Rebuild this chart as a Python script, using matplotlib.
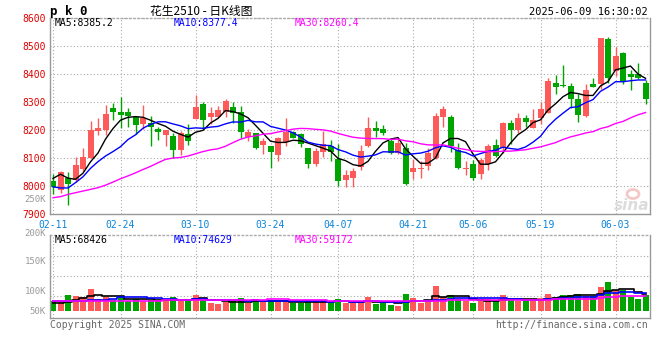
import numpy as np
import pandas as pd
import matplotlib
matplotlib.use("Agg")
import matplotlib.pyplot as plt
from matplotlib.patches import Ellipse

# 交易日（节假日去掉）
holidays = ["2025-04-04", "2025-05-01", "2025-05-02", "2025-05-05", "2025-06-02"]
days = pd.bdate_range("2025-02-11", "2025-06-09", freq="C", holidays=holidays)
date_labels = ["02-11", "02-24", "03-10", "03-24", "04-07", "04-21", "05-06", "05-19", "06-03"]

opens = [8017, 7986, 8030, 8021, 8060, 8099, 8197, 8201, 8277, 8263,
         8263, 8246, 8220, 8226, 8202, 8182, 8179, 8127, 8185, 8240,
         8294, 8246, 8246, 8264, 8281, 8263, 8175, 8190, 8145, 8142,
         8111, 8158, 8194, 8185, 8135, 8080, 8123, 8144, 8095, 8021,
         8030, 8068, 8143, 8208, 8202, 8161, 8119, 8135, 8050, 8060,
         8072, 8099, 8247, 8245, 8129, 8061, 8077, 8042, 8077, 8145,
         8137, 8226, 8199, 8244, 8208, 8242, 8262, 8369, 8360, 8357,
         8310, 8250, 8363, 8363, 8524, 8411, 8476, 8399, 8401, 8369]
highs = [8044, 8052, 8050, 8102, 8136, 8231, 8242, 8289, 8295, 8319,
         8277, 8248, 8288, 8250, 8210, 8201, 8189, 8196, 8220, 8324,
         8300, 8282, 8286, 8310, 8300, 8286, 8205, 8190, 8173, 8142,
         8175, 8242, 8196, 8188, 8135, 8137, 8198, 8165, 8149, 8057,
         8066, 8145, 8247, 8232, 8218, 8170, 8170, 8155, 8095, 8089,
         8137, 8262, 8286, 8252, 8152, 8089, 8092, 8100, 8151, 8169,
         8228, 8235, 8262, 8254, 8274, 8301, 8385, 8396, 8431, 8369,
         8327, 8363, 8385, 8530, 8532, 8496, 8480, 8413, 8440, 8377]
lows = [7970, 7976, 7932, 8015, 8055, 8099, 8181, 8182, 8237, 8206,
        8211, 8185, 8202, 8143, 8163, 8142, 8101, 8111, 8145, 8240,
        8202, 8223, 8246, 8246, 8226, 8170, 8161, 8131, 8113, 8063,
        8089, 8143, 8170, 8139, 8065, 8073, 8105, 8089, 8000, 7998,
        7998, 8056, 8140, 8175, 8182, 8113, 8113, 8003, 8024, 8028,
        8056, 8097, 8211, 8123, 8060, 8040, 8022, 8024, 8056, 8105,
        8117, 8149, 8191, 8211, 8206, 8223, 8260, 8327, 8354, 8280,
        8229, 8248, 8352, 8345, 8369, 8393, 8363, 8342, 8381, 8292]
closes = [7996, 8049, 8008, 8074, 8102, 8199, 8206, 8256, 8263, 8252,
          8250, 8218, 8244, 8211, 8193, 8201, 8129, 8188, 8161, 8281,
          8235, 8260, 8270, 8302, 8262, 8193, 8192, 8135, 8160, 8120,
          8170, 8194, 8173, 8151, 8079, 8124, 8149, 8123, 8018, 8039,
          8052, 8125, 8206, 8197, 8189, 8119, 8154, 8006, 8063, 8064,
          8119, 8249, 8274, 8143, 8063, 8063, 8028, 8092, 8142, 8107,
          8226, 8200, 8242, 8230, 8235, 8274, 8375, 8354, 8357, 8310,
          8254, 8342, 8354, 8527, 8387, 8464, 8375, 8389, 8385, 8310]
# 成交量（千手）
volumes_k = [41, 41, 65, 61, 57, 89, 49, 57, 45, 61,
             41, 49, 41, 45, 41, 41, 57, 41, 49, 65,
             45, 32, 28, 37, 41, 53, 32, 45, 37, 41,
             41, 41, 32, 32, 45, 41, 41, 32, 49, 32,
             32, 41, 57, 28, 32, 24, 20, 69, 53, 32,
             41, 102, 57, 65, 49, 41, 32, 41, 49, 41,
             65, 49, 41, 41, 41, 53, 69, 57, 65, 65,
             69, 61, 61, 97, 118, 85, 85, 57, 49, 65]

# 均线开头部分（需要更早的数据，直接从图上读）
ma5_head = [8027, 8042, 8028, 8024]
ma10_head = [7997, 7993, 7993, 8012, 8033, 8063, 8087, 8107, 8123]
ma30_head = [7958, 7962, 7970, 7976, 7982, 7988, 7994, 8003, 8014, 8026,
             8036, 8047, 8059, 8070, 8083, 8095, 8100, 8102, 8107, 8115,
             8123, 8129, 8133, 8142, 8155, 8167, 8175, 8179, 8185]
vma5_head = [34, 34, 36, 46]
vma10_head = [41, 41, 41, 41, 41, 43, 45, 46, 48]
vma30_head = [42, 42, 42, 42, 42, 42, 42, 42, 42, 42,
              42, 42, 42, 42, 42, 43, 43, 43, 43, 44,
              44, 44, 44, 44, 44, 44, 44, 44, 44]


def moving_avg(values, n, head):
    out = pd.Series(values, dtype=float).rolling(n).mean().to_numpy()
    out[:len(head)] = head
    return out


x = np.arange(len(closes))
o = np.array(opens, float)
h = np.array(highs, float)
l = np.array(lows, float)
c = np.array(closes, float)
vol = np.array(volumes_k, float) * 1000

ma5 = moving_avg(c, 5, ma5_head)
ma10 = moving_avg(c, 10, ma10_head)
ma30 = moving_avg(c, 30, ma30_head)
vma5 = moving_avg(vol, 5, np.array(vma5_head) * 1000)
vma10 = moving_avg(vol, 10, np.array(vma10_head) * 1000)
vma30 = moving_avg(vol, 30, np.array(vma30_head) * 1000)

RED = "#ff5a5a"
GREEN = "#00a400"
up = c >= o
cols = np.where(up, RED, GREEN)

mono = "DejaVu Sans Mono"
W, H = 660, 360

fig = plt.figure(figsize=(6.6, 3.6), dpi=100)
ax = fig.add_axes([50 / W, 1 - 214 / H, 600 / W, 196 / H])
axv = fig.add_axes([50 / W, 1 - 318 / H, 600 / W, 83 / H])

tick_pos = [list(days.strftime("%m-%d")).index(d) for d in date_labels]

for a in (ax, axv):
    a.set_xlim(-0.4, len(x) - 0.4)
    for s in a.spines.values():
        s.set_color("#999999")
        s.set_linewidth(1)
    a.spines["top"].set_linestyle((0, (1, 2)))
    a.spines["top"].set_color("#aaaaaa")
    a.set_xticks(tick_pos)
    a.grid(True, color="#aaaaaa", linestyle=(0, (1, 2)), linewidth=0.8)
    a.set_axisbelow(True)
    a.tick_params(length=0)

# K 线
ax.vlines(x, l, h, colors=cols, linewidth=1)
body_bottom = np.minimum(o, c)
body_h = np.maximum(np.abs(c - o), 3)
ax.bar(x, body_h, bottom=body_bottom, width=0.8, color=cols, linewidth=0)
ax.plot(x, ma5, color="black", lw=1)
ax.plot(x, ma10, color="#0000ff", lw=1)
ax.plot(x, ma30, color="#ff00ff", lw=1)
ax.set_ylim(7900, 8600)
ax.set_yticks(range(7900, 8601, 100))
ax.set_yticklabels([str(v) for v in range(7900, 8601, 100)], color="#e00000",
                   fontsize=7, family=mono)
ax.tick_params(axis="y", pad=3)
ax.set_xticklabels(date_labels, color="#0a84d8", fontsize=7, family=mono)
ax.tick_params(axis="x", pad=4)

# 成交量
axv.bar(x, vol, width=0.8, color=cols, linewidth=0)
axv.plot(x, vma5, color="black", lw=1.2, drawstyle="steps-mid")
axv.plot(x, vma10, color="#0000ff", lw=1.2, drawstyle="steps-mid")
axv.plot(x, vma30, color="#ff00ff", lw=1.2, drawstyle="steps-mid")
axv.set_ylim(-28400, 308600)
axv.set_yticks([61000, 142000, 223000])
axv.set_yticklabels([])
axv.set_xticklabels([])

# 文字
fig.text(50 / W, 1 - 11 / H, "p k 0", fontsize=9, weight="bold", family=mono, va="center")
fig.text(201 / W, 1 - 11 / H, "花生2510 - 日K线图", fontsize=8.5,
         family=["Noto Sans CJK SC", "DejaVu Sans"], ha="center", va="center")
fig.text(648 / W, 1 - 12 / H, "2025-06-09 16:30:02", fontsize=7.5, family=mono,
         ha="right", va="center")
fig.text(55 / W, 1 - 23 / H, "MA5:8385.2", fontsize=7, family=mono, va="center", color="black")
fig.text(174 / W, 1 - 23 / H, "MA10:8377.4", fontsize=7, family=mono, va="center", color="#0000ff")
fig.text(295 / W, 1 - 23 / H, "MA30:8260.4", fontsize=7, family=mono, va="center", color="#ff00ff")
fig.text(55 / W, 1 - 240 / H, "MA5:68426", fontsize=7, family=mono, va="center", color="black")
fig.text(174 / W, 1 - 240 / H, "MA10:74629", fontsize=7, family=mono, va="center", color="#0000ff")
fig.text(295 / W, 1 - 240 / H, "MA30:59172", fontsize=7, family=mono, va="center", color="#ff00ff")

for lab, ypx in [("250K", 200), ("200K", 234), ("150K", 261), ("100K", 291), ("50K", 311)]:
    fig.text(46 / W, 1 - ypx / H, lab, fontsize=6.5, family=mono, color="#999999",
             ha="right", va="center")

fig.text(50 / W, 1 - 325 / H, "Copyright 2025 SINA.COM", fontsize=7, family=mono,
         color="#666666", va="center")
fig.text(648 / W, 1 - 325 / H, "http://finance.sina.com.cn", fontsize=7, family=mono,
         color="#666666", ha="right", va="center")

# sina 水印
fig.patches.append(Ellipse((633 / W, 1 - 194 / H), 12 / W, 9 / H, transform=fig.transFigure,
                           facecolor="none", edgecolor="#f5c8c8", lw=2))
fig.text(632 / W, 1 - 205 / H, "sina", fontsize=11, style="italic", weight="bold",
         color="#dcdcdc", ha="center", va="center")

fig.savefig("out.png", dpi=100)
